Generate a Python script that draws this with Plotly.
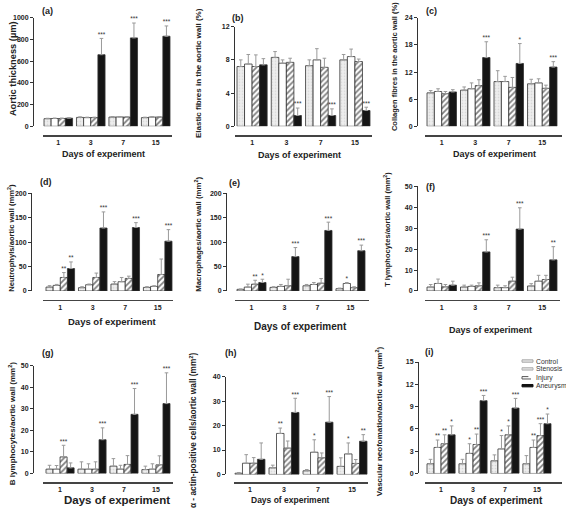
import plotly.graph_objects as go

W, H = 566, 509

days = ["1", "3", "7", "15"]
groups = ["Control", "Stenosis", "Injury", "Aneurysm"]

# rows = groups (Control, Stenosis, Injury, Aneurysm), columns = days
a_mean = [[70, 82, 85, 80], [72, 80, 86, 85], [72, 80, 85, 85], [75, 660, 815, 830]]
a_err = [[4, 5, 5, 4], [4, 4, 4, 4], [4, 4, 4, 4], [4, 150, 137, 95]]
a_sig = [["", "", "", ""], ["", "", "", ""], ["", "", "", ""], ["", "***", "***", "***"]]

b_mean = [[7.2, 8.3, 7.3, 8.0], [7.5, 7.6, 8.0, 8.4], [7.2, 7.7, 7.1, 7.8], [7.4, 1.3, 1.3, 1.9]]
b_err = [[0.8, 0.7, 0.7, 0.65], [1.15, 0.4, 1.35, 0.9], [1.4, 0.5, 1.1, 0.3], [0.75, 0.9, 0.8, 0.4]]
b_sig = [["", "", "", ""], ["", "", "", ""], ["", "", "", ""], ["", "***", "***", "***"]]

c_mean = [[7.4, 8.0, 9.9, 9.4], [7.7, 8.3, 9.9, 9.6], [7.2, 9.0, 8.6, 8.4], [7.6, 15.2, 13.9, 13.1]]
c_err = [[0.5, 0.7, 2.4, 1.0], [0.6, 1.3, 1.15, 0.9], [0.5, 1.3, 2.2, 0.7], [0.5, 3.5, 4.4, 1.2]]
c_sig = [["", "", "", ""], ["", "", "", ""], ["", "", "", ""], ["", "***", "*", "***"]]

d_mean = [[8, 6.8, 14.2, 7.4], [11.5, 12.8, 19, 9.5], [27.7, 27.7, 25.7, 33.8], [46, 129, 130, 102]]
d_err = [[3, 2, 5, 1.5], [2, 1.5, 8.7, 1.3], [10, 9, 4.7, 31.7], [13.5, 33, 10, 23.7]]
d_sig = [["", "", "", ""], ["", "", "", ""], ["**", "", "", ""], ["**", "***", "***", "***"]]

e_mean = [[3.4, 7.4, 10.7, 4.7], [8, 9.4, 13.4, 15.4], [14, 10.7, 16, 6.7], [17.4, 70.5, 124, 82.5]]
e_err = [[0.7, 1.3, 2.7, 1.3], [6, 4, 4, 2], [8, 13.4, 9.5, 2], [6.7, 18.5, 17, 11.5]]
e_sig = [["", "", "", ""], ["", "", "", "*"], ["**", "", "", ""], ["*", "***", "***", "***"]]

f_mean = [[1.9, 1.9, 1.6, 2.4], [3.6, 2.2, 1.6, 4.7], [2.0, 2.5, 4.7, 5.5], [2.8, 18.7, 29.6, 14.9]]
f_err = [[1.2, 0.9, 1.2, 1.1], [2.1, 0.6, 0.9, 2.8], [1.1, 1.4, 1.9, 2.0], [1.9, 5.8, 10.2, 6.3]]
f_sig = [["", "", "", ""], ["", "", "", ""], ["", "", "", ""], ["", "***", "***", "**"]]

g_mean = [[2.0, 2.0, 3.4, 1.8], [2.0, 2.0, 2.0, 2.0], [7.7, 2.0, 4.2, 4.0], [2.6, 15.7, 27.5, 32.5]]
g_err = [[1.8, 3.4, 3.5, 1.6], [1.7, 2.5, 1.8, 2.5], [5.4, 3.4, 4.1, 4.2], [2.3, 5.5, 12, 14.3]]
g_sig = [["", "", "", ""], ["", "", "", ""], ["***", "", "", ""], ["", "***", "***", "***"]]

h_mean = [[0.5, 2.7, 1.5, 3.3], [4.6, 16.8, 9.1, 8.4], [4.6, 10.8, 6.8, 4.5], [6.2, 25.4, 21.4, 13.6]]
h_err = [[0.3, 1.1, 0.5, 3.5], [3.5, 2.2, 5.1, 4.5], [2.3, 2.9, 2.0, 1.6], [6.7, 5.8, 10.5, 2.7]]
h_sig = [["", "", "", ""], ["", "**", "*", "*"], ["", "", "", ""], ["", "***", "***", "**"]]

i_mean = [[1.3, 1.3, 1.7, 1.3], [3.5, 2.7, 3.3, 3.5], [4.0, 3.9, 5.2, 5.1], [5.2, 9.8, 8.8, 6.7]]
i_err = [[0.6, 0.6, 0.8, 1.1], [1.0, 1.3, 1.8, 1.0], [1.2, 1.4, 1.2, 1.6], [1.2, 0.7, 1.3, 1.3]]
i_sig = [["", "", "", ""], ["**", "*", "*", "**"], ["**", "**", "*", "***"], ["*", "***", "***", "*"]]

y_titles = [
    "Aortic thickness (µm)",
    "Elastic fibres in the aortic wall (%)",
    "Collagen fibres in the aortic wall (%)",
    "Neutrophyls/aortic wall (mm<sup>2</sup>)",
    "Macrophages/aortic wall (mm<sup>2</sup>)",
    "T lymphocytes/aortic wall (mm<sup>2</sup>)",
    "B lymphocytes/aortic wall (mm<sup>2</sup>)",
    "α - actin-positive cells/aortic wall (mm<sup>2</sup>)",
    "Vascular neofomation/aortic wall (mm<sup>2</sup>)",
]
y_max = [1000, 12, 24, 200, 200, 50, 50, 40, 15]
y_step = [200, 4, 6, 50, 50, 10, 10, 10, 3]
panel_labels = ["(a)", "(b)", "(c)", "(d)", "(e)", "(f)", "(g)", "(h)", "(i)"]
x_title = "Days of experiment"

panels = [
    (a_mean, a_err, a_sig), (b_mean, b_err, b_sig), (c_mean, c_err, c_sig),
    (d_mean, d_err, d_sig), (e_mean, e_err, e_sig), (f_mean, f_err, f_sig),
    (g_mean, g_err, g_sig), (h_mean, h_err, h_sig), (i_mean, i_err, i_sig),
]

# ---- layout geometry (pixels) ----
geo = [
    dict(yx=33, xl=43, xr=172, bl=44, br=170, yt=14, yb=124, xa=133, tx=13, ty=66, tfs=9.3, lx=40, ly=7, xtx=103, xty=152, xfs=9),
    dict(yx=234, xl=235, xr=372, bl=237, br=370, yt=23, yb=124, xa=133, tx=198, ty=70, tfs=8, lx=230, ly=14, xtx=299, xty=153, xfs=9),
    dict(yx=417, xl=425, xr=562, bl=427, br=557, yt=14, yb=124, xa=133, tx=394, ty=64, tfs=7.5, lx=424, ly=7, xtx=494, xty=152, xfs=9),
    dict(yx=31, xl=43, xr=173, bl=46, br=172, yt=192, yb=291, xa=300, tx=11, ty=237, tfs=7.6, lx=38, ly=180, xtx=112, xty=322, xfs=9.5),
    dict(yx=226, xl=235, xr=369, bl=237, br=365, yt=192, yb=291, xa=300, tx=198, ty=234, tfs=7.8, lx=227, ly=182, xtx=300, xty=327, xfs=10),
    dict(yx=417, xl=425, xr=560, bl=427, br=557, yt=185, yb=291, xa=300, tx=387, ty=229, tfs=7.5, lx=424, ly=186, xtx=491, xty=331, xfs=9),
    dict(yx=33, xl=43, xr=173, bl=46, br=170, yt=367, yb=476, xa=485, tx=12, ty=425, tfs=8, lx=40, ly=354, xtx=117, xty=503, xfs=11.5),
    dict(yx=225, xl=234, xr=368, bl=235, br=367, yt=378, yb=477, xa=485, tx=193, ty=432, tfs=8.3, lx=223, ly=354, xtx=290, xty=503, xfs=8.5),
    dict(yx=418, xl=425, xr=562, bl=427, br=551, yt=363, yb=476, xa=485, tx=379, ty=423, tfs=8, lx=423, ly=353, xtx=496, xty=503, xfs=10),
]

FONT = "Liberation Sans, Arial, sans-serif"
BW = 0.22  # bar width in category units

styles = [
    dict(color="#eeeeee", pattern=dict(shape=".", fgcolor="#bdbdbd", bgcolor="#eeeeee", size=3, solidity=0.25)),
    dict(color="#ffffff", pattern=dict(shape="")),
    dict(color="#ffffff", pattern=dict(shape="/", fgcolor="#000000", bgcolor="#ffffff", size=4, solidity=0.45)),
    dict(color="#151515", pattern=dict(shape="")),
]

fig = go.Figure()
layout = dict(
    width=W, height=H, autosize=False,
    margin=dict(l=0, r=0, t=0, b=0),
    paper_bgcolor="white", plot_bgcolor="white",
    showlegend=False, font=dict(family=FONT, color="#222"),
    annotations=[], shapes=[], hovermode=False,
)

for n, ((mean, err, sig), g) in enumerate(zip(panels, geo), start=1):
    xa = "x" if n == 1 else f"x{n}"
    ya = "y" if n == 1 else f"y{n}"
    for k in range(4):
        xs = [d + (k - 1.5) * BW for d in range(len(days))]
        st = styles[k]
        fig.add_trace(go.Bar(
            x=xs, y=mean[k], width=BW, xaxis=xa, yaxis=ya, name=groups[k],
            marker=dict(color=st["color"], pattern=st["pattern"], line=dict(color="#333", width=0.8)),
            error_y=dict(type="data", array=err[k], arrayminus=[0] * 4, symmetric=False,
                         color="#9a9a9a", thickness=1, width=1.8),
        ))
        tx = [x for x, s in zip(xs, sig[k]) if s]
        ty = [m + e for m, e, s in zip(mean[k], err[k], sig[k]) if s]
        tt = [s for s in sig[k] if s]
        if tt:
            fig.add_trace(go.Scatter(
                x=tx, y=ty, text=tt, mode="text", textposition="top center",
                textfont=dict(size=6.5, color="#333", family=FONT),
                xaxis=xa, yaxis=ya, cliponaxis=False, hoverinfo="skip",
            ))
    upp = 3.88 / (g["br"] - g["bl"])
    r0 = -0.44 - (g["bl"] - g["xl"]) * upp
    r1 = 3.44 + (g["xr"] - g["br"]) * upp
    layout["xaxis" if n == 1 else f"xaxis{n}"] = dict(
        domain=[g["xl"] / W, g["xr"] / W], anchor="free", position=1 - g["xa"] / H,
        range=[r0, r1], tickvals=[0, 1, 2, 3], ticktext=days, ticks="",
        showline=True, linecolor="#444", linewidth=1.5, showgrid=False, zeroline=False,
        tickfont=dict(size=7, family=FONT, color="#222", weight="bold"), fixedrange=True,
    )
    nt = int(round(y_max[n - 1] / y_step[n - 1]))
    layout["yaxis" if n == 1 else f"yaxis{n}"] = dict(
        domain=[1 - g["yb"] / H, 1 - g["yt"] / H], anchor="free", position=g["yx"] / W,
        range=[0, y_max[n - 1]], tickvals=[y_step[n - 1] * i for i in range(nt + 1)],
        showline=True, linecolor="#333", linewidth=1, ticks="outside", ticklen=3, tickwidth=1,
        tickcolor="#333", showgrid=False, zeroline=False,
        tickfont=dict(size=7, family=FONT, color="#222", weight="bold"), fixedrange=True,
    )
    layout["annotations"].append(dict(
        text=f"<b>{y_titles[n - 1]}</b>", textangle=-90, xref="paper", yref="paper",
        x=g["tx"] / W, y=1 - g["ty"] / H, xanchor="center", yanchor="middle", showarrow=False,
        font=dict(size=g["tfs"], family=FONT, color="#222"),
    ))
    layout["annotations"].append(dict(
        text=f"<b>{x_title}</b>", xref="paper", yref="paper",
        x=g["xtx"] / W, y=1 - g["xty"] / H, xanchor="center", yanchor="middle", showarrow=False,
        font=dict(size=g["xfs"], family=FONT, color="#222"),
    ))
    layout["annotations"].append(dict(
        text=f"<b>{panel_labels[n - 1]}</b>", xref="paper", yref="paper",
        x=g["lx"] / W, y=1 - g["ly"] / H, xanchor="left", yanchor="middle", showarrow=False,
        font=dict(size=9, family=FONT, color="#222"),
    ))

# ---- legend (panel i) ----
leg_y = [362, 370, 379, 387]
leg_fill = ["#e6e6e6", "#e0e0e0", "#ffffff", "#111111"]
leg_line = ["#a8a8a8", "#b0b0b0", "#555555", "#111111"]
leg_dash = ["solid", "solid", "dash", "solid"]
for k in range(4):
    yc = 1 - leg_y[k] / H
    layout["shapes"].append(dict(
        type="rect", xref="paper", yref="paper",
        x0=522 / W, x1=533 / W, y0=yc - 1.2 / H, y1=yc + 1.2 / H,
        fillcolor=leg_fill[k], line=dict(color=leg_line[k], width=1, dash=leg_dash[k]),
    ))
    layout["annotations"].append(dict(
        text=groups[k], xref="paper", yref="paper", x=533.5 / W, y=yc,
        xanchor="left", yanchor="middle", showarrow=False,
        font=dict(size=6.8, family=FONT, color="#333"),
    ))

fig.update_layout(**layout)
fig.write_html(
    "out.html",
    config={"displayModeBar": False, "staticPlot": True},
    post_script="document.body.style.margin='0px';document.body.style.overflow='hidden';",
)
